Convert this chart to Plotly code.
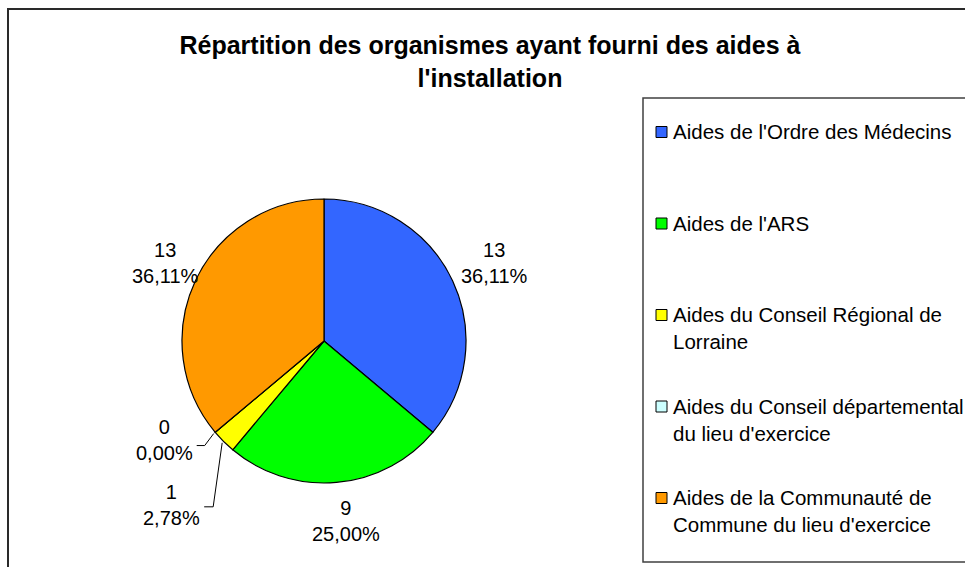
import math
import textwrap
import plotly.graph_objects as go

# data
categories = [
    "Aides de l'Ordre des Médecins",
    "Aides de l'ARS",
    "Aides du Conseil Régional de Lorraine",
    "Aides du Conseil départemental du lieu d'exercice",
    "Aides de la Communauté de Commune du lieu d'exercice",
]
counts = [13, 9, 1, 0, 13]
colors = ["#3366FF", "#00FF00", "#FFFF00", "#CCFFFF", "#FF9900"]

W, H = 965, 567
FONT = "Liberation Sans, Arial, sans-serif"

# pie geometry in pixels
PIE_CX, PIE_CY, PIE_R = 324, 341, 142
LABEL_R = 182


def px(x):
    return x / W


def py(y):
    return 1 - y / H


def fmt_label(v, total):
    pct = f"{100 * v / total:.2f}".replace(".", ",")
    return f"{v}<br>{pct}%"


def slice_mid_angles(values):
    """Clockwise angle from 12 o'clock (degrees) of each slice middle."""
    total = sum(values)
    out, start = [], 0.0
    for v in values:
        span = 360.0 * v / total
        out.append(start + span / 2)
        start += span
    return out


def polar(angle, r):
    a = math.radians(angle)
    return PIE_CX + r * math.sin(a), PIE_CY - r * math.cos(a)


fig = go.Figure()

fig.add_trace(go.Pie(
    labels=categories,
    values=counts,
    sort=False,
    direction="clockwise",
    rotation=0,
    marker=dict(colors=colors, line=dict(color="black", width=1.2)),
    textinfo="none",
    showlegend=False,
    domain=dict(
        x=[px(PIE_CX - PIE_R), px(PIE_CX + PIE_R)],
        y=[py(PIE_CY + PIE_R), py(PIE_CY - PIE_R)],
    ),
))

total = sum(counts)
mids = slice_mid_angles(counts)
annotations = []
shapes = []

# data labels: big slices sit at mid-angle, small ones get a leader line
small = {2: (-9, 64, -9, 0), 3: (-9, 12, -8, -4)}  # idx: elbow dx, elbow dy, end dx, text dy
for i, (v, ang) in enumerate(zip(counts, mids)):
    text = fmt_label(v, total)
    if i in small:
        ex, ey, endx, tdy = small[i]
        sx, sy = polar(ang, PIE_R + 2)
        x1, y1 = sx + ex, sy + ey
        x2 = x1 + endx
        shapes.append(dict(
            type="path", xref="paper", yref="paper",
            path=f"M {px(sx)},{py(sy)} L {px(x1)},{py(y1)} L {px(x2)},{py(y1)}",
            line=dict(color="black", width=1),
        ))
        annotations.append(dict(
            x=px(x2 - 2), y=py(y1 - 2 + tdy), xref="paper", yref="paper",
            text=text, showarrow=False, xanchor="right", yanchor="middle",
            align="center", font=dict(family=FONT, size=20, color="black"),
        ))
    else:
        lx, ly = polar(ang, LABEL_R)
        annotations.append(dict(
            x=px(lx + 6), y=py(ly - 1), xref="paper", yref="paper",
            text=text, showarrow=False, xanchor="center", yanchor="middle",
            align="center", font=dict(family=FONT, size=20, color="black"),
        ))

# legend drawn by hand to keep the wide spacing
LEG_X, LEG_Y0, LEG_STEP = 656, 132, 91.5
for i, (name, c) in enumerate(zip(categories, colors)):
    yc = LEG_Y0 + i * LEG_STEP
    shapes.append(dict(
        type="rect", xref="paper", yref="paper",
        x0=px(LEG_X), x1=px(LEG_X + 11), y0=py(yc - 5.5), y1=py(yc + 5.5),
        fillcolor=c, line=dict(color="black", width=1),
    ))
    annotations.append(dict(
        x=px(LEG_X + 15), y=py(yc - 14), xref="paper", yref="paper",
        text="<br>".join(textwrap.wrap(name, 30)), showarrow=False,
        xanchor="left", yanchor="top", align="left",
        font=dict(family=FONT, size=20.5, color="black"),
    ))

# legend box and chart frame
shapes.append(dict(
    type="path", xref="paper", yref="paper",
    path=f"M {px(970)},{py(98)} L {px(643)},{py(98)} L {px(643)},{py(562)} L {px(970)},{py(562)}",
    line=dict(color="#404040", width=1.5),
))
shapes.append(dict(
    type="path", xref="paper", yref="paper",
    path=f"M {px(970)},{py(9)} L {px(8)},{py(9)} L {px(8)},{py(575)}",
    line=dict(color="#2a2a2a", width=2),
))

fig.update_layout(
    width=W, height=H,
    margin=dict(l=0, r=0, t=0, b=0),
    paper_bgcolor="white",
    plot_bgcolor="white",
    title=dict(
        text="<b>Répartition des organismes ayant fourni des aides à<br>l'installation</b>",
        x=px(490), xanchor="center",
        y=py(54), yanchor="middle", yref="container",
        font=dict(family=FONT, size=25, color="black"),
    ),
    annotations=annotations,
    shapes=shapes,
)

# drop the page's default 8px body margin so the chart sits at the window origin
fig.write_html(
    "out.html",
    config={"displayModeBar": False},
    post_script="document.body.style.margin='0';",
)
